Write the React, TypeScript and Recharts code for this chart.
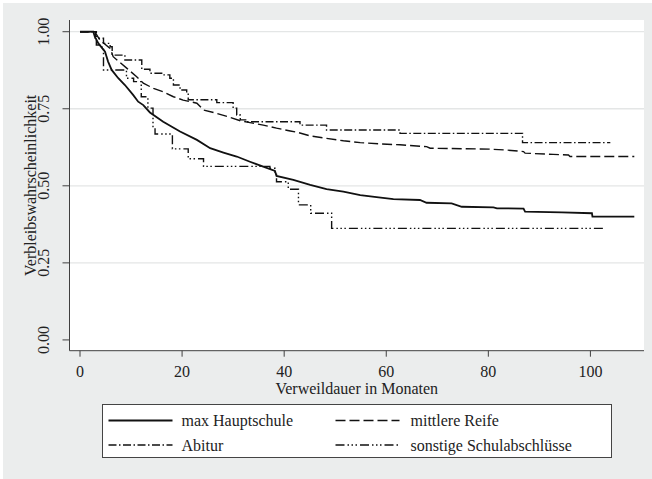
import React from 'react';
import { LineChart, Line, XAxis, YAxis, ReferenceLine, Legend, CartesianGrid } from 'recharts';

const FONT = 'Liberation Serif, DejaVu Serif, Times New Roman, serif';

const xTicks = [0, 20, 40, 60, 80, 100];
const yTicks = [0, 0.25, 0.5, 0.75, 1];
const yTickLabels = ['0.00', '0.25', '0.50', '0.75', '1.00'];
const gridValues = [0.25, 0.5, 0.75, 1];

const seriesNames = ['max Hauptschule', 'mittlere Reife', 'Abitur', 'sonstige Schulabschlüsse'];

// max Hauptschule
const hauptT = [0, 2.6, 2.9, 3.6, 4.9, 5.5, 6.2, 7.5, 8.8, 10.4, 11.4, 12.4, 13.7, 16.3, 19.6, 22.9, 25.5, 28.1, 30.7, 33.3, 35.9, 38.2, 38.5, 41.8, 45.1, 48.3, 51.6, 54.9, 58.1, 61.4, 66.6, 67.9, 72.8, 74.8, 81.0, 81.7, 86.9, 87.2, 94.4, 100.3, 100.4, 108.6];
const hauptS = [1.0, 1.0, 0.984, 0.962, 0.935, 0.903, 0.876, 0.849, 0.827, 0.795, 0.773, 0.762, 0.738, 0.708, 0.676, 0.649, 0.622, 0.608, 0.595, 0.578, 0.562, 0.548, 0.532, 0.519, 0.503, 0.489, 0.481, 0.470, 0.463, 0.457, 0.454, 0.445, 0.443, 0.432, 0.430, 0.427, 0.426, 0.416, 0.414, 0.411, 0.400, 0.400];

// mittlere Reife
const reifeT = [0, 2.9, 3.9, 5.9, 6.5, 9.2, 11.1, 12.4, 14.4, 16.3, 18.3, 20.2, 22.9, 24.2, 26.8, 29.4, 31.4, 33.3, 35.9, 38.5, 41.2, 42.5, 45.1, 48.3, 51.6, 54.9, 58.8, 62.7, 67.9, 68.6, 80.3, 83.6, 86.9, 87.2, 92.7, 95.7, 96.0, 108.6];
const reifeS = [1.0, 1.0, 0.973, 0.946, 0.919, 0.881, 0.854, 0.833, 0.816, 0.805, 0.789, 0.778, 0.768, 0.746, 0.735, 0.722, 0.711, 0.705, 0.697, 0.687, 0.678, 0.674, 0.662, 0.654, 0.646, 0.640, 0.636, 0.633, 0.627, 0.622, 0.619, 0.616, 0.611, 0.606, 0.602, 0.600, 0.595, 0.595];

// Abitur
const abiT = [0, 3.0, 4.6, 5.9, 6.3, 8.8, 12.1, 13.7, 16.0, 17.6, 18.3, 19.6, 20.9, 21.2, 26.8, 30.0, 30.7, 31.4, 32.7, 43.1, 48.3, 62.7, 86.7, 103.9];
const abiS = [1.0, 0.979, 0.962, 0.951, 0.924, 0.908, 0.878, 0.865, 0.860, 0.849, 0.827, 0.811, 0.800, 0.779, 0.770, 0.752, 0.730, 0.714, 0.708, 0.697, 0.681, 0.670, 0.640, 0.640];

// sonstige Schulabschlüsse
const sonT = [0, 3.2, 4.3, 4.6, 9.1, 10.5, 12.0, 13.3, 14.3, 14.7, 18.1, 21.2, 24.2, 37.2, 38.2, 38.5, 40.8, 42.8, 45.2, 49.3, 102.9];
const sonS = [1.0, 0.957, 0.946, 0.876, 0.849, 0.838, 0.789, 0.752, 0.692, 0.668, 0.620, 0.588, 0.563, 0.557, 0.541, 0.513, 0.489, 0.438, 0.411, 0.362, 0.362];

const zip = (t: number[], s: number[]) => t.map((x, i) => ({ t: x, s: s[i] }));

const styles = [
  { dash: undefined as string | undefined, width: 1.8, type: 'linear' as const },
  { dash: '10 4', width: 1.4, type: 'linear' as const },
  { dash: '8 2.5 1.5 2.5', width: 1.4, type: 'stepAfter' as const },
  { dash: '9 3 1.5 2.5 1.5 2.5 1.5 3', width: 1.4, type: 'stepAfter' as const },
];

const seriesData = [zip(hauptT, hauptS), zip(reifeT, reifeS), zip(abiT, abiS), zip(sonT, sonS)];

const YTick = (props: any) => {
  const { x, y, payload } = props;
  const idx = yTicks.indexOf(payload.value);
  return (
    <text
      transform={`translate(${x - 19}, ${y}) rotate(-90)`}
      textAnchor="middle"
      dy="0.33em"
      fontSize={16}
      fontFamily={FONT}
      fill="#222"
    >
      {yTickLabels[idx]}
    </text>
  );
};

const legendPos = [
  { lx: 5.5, tx: 78.5, y: 15.5 },
  { lx: 232.5, tx: 307.5, y: 15.5 },
  { lx: 5.5, tx: 78.5, y: 40 },
  { lx: 232.5, tx: 307.5, y: 40 },
];

const renderLegend = () => (
  <div
    style={{
      width: 510,
      height: 54,
      boxSizing: 'border-box',
      border: '1px solid #444',
      background: '#fff',
    }}
  >
    <svg width={508} height={52} style={{ display: 'block' }}>
      {seriesNames.map((name, i) => (
        <g key={name}>
          <line
            x1={legendPos[i].lx}
            x2={legendPos[i].lx + 64}
            y1={legendPos[i].y}
            y2={legendPos[i].y}
            stroke="#111"
            strokeWidth={styles[i].width}
            strokeDasharray={styles[i].dash}
          />
          <text
            x={legendPos[i].tx}
            y={legendPos[i].y}
            dy="0.35em"
            fontSize={16}
            fontFamily={FONT}
            fill="#222"
          >
            {name}
          </text>
        </g>
      ))}
    </svg>
  </div>
);

export default function App() {
  return (
    <div style={{ position: 'absolute', left: 0, top: 0, width: 652, height: 479, background: '#fff', fontFamily: FONT }}>
      <div style={{ position: 'absolute', left: 3, top: 3, width: 649, height: 476, background: '#EBEDED' }} />
      <div style={{ position: 'absolute', left: 0, top: 0 }}>
        <LineChart
          width={652}
          height={479}
          margin={{ top: 20, right: 8, left: 9.5, bottom: 98.3 }}
        >
          <CartesianGrid horizontal={false} vertical={false} fill="#ffffff" fillOpacity={1} stroke="none" />
          {gridValues.map((v) => (
            <ReferenceLine key={v} y={v} stroke="#E4E6E6" strokeWidth={1.3} ifOverflow="hidden" />
          ))}
          <XAxis
            type="number"
            dataKey="t"
            domain={[-2.06, 110.5]}
            allowDataOverflow
            ticks={xTicks}
            height={30}
            tickSize={6}
            tickMargin={9}
            stroke="#404040"
            tick={{ fontSize: 16, fontFamily: FONT, fill: '#222' }}
            tickLine={{ stroke: '#404040' }}
            label={{
              content: (p: any) => {
                const vb = p.viewBox;
                return (
                  <text
                    x={vb.x + vb.width / 2}
                    y={vb.y + 38}
                    dy="0.35em"
                    textAnchor="middle"
                    fontSize={16}
                    fontFamily={FONT}
                    fill="#222"
                  >
                    Verweildauer in Monaten
                  </text>
                );
              },
            }}
          />
          <YAxis
            type="number"
            domain={[-0.035, 1.038]}
            allowDataOverflow
            ticks={yTicks}
            width={60}
            tickSize={7}
            tickMargin={0}
            stroke="#404040"
            tick={<YTick />}
            tickLine={{ stroke: '#404040' }}
            label={{
              content: (p: any) => {
                const vb = p.viewBox;
                return (
                  <text
                    transform={`translate(31, ${vb.y + vb.height / 2}) rotate(-90)`}
                    dy="0.3em"
                    textAnchor="middle"
                    fontSize={16}
                    fontFamily={FONT}
                    fill="#222"
                  >
                    Verbleibswahrscheinlichkeit
                  </text>
                );
              },
            }}
          />
          {seriesData.map((d, i) => (
            <Line
              key={seriesNames[i]}
              data={d}
              dataKey="s"
              name={seriesNames[i]}
              type={styles[i].type}
              stroke="#111"
              strokeWidth={styles[i].width}
              strokeDasharray={styles[i].dash}
              dot={false}
              activeDot={false}
              isAnimationActive={false}
            />
          ))}
          <Legend
            layout="horizontal"
            verticalAlign="middle"
            align="center"
            wrapperStyle={{ left: 101.5, top: 404, width: 510, height: 54 }}
            content={renderLegend}
          />
        </LineChart>
      </div>
    </div>
  );
}
